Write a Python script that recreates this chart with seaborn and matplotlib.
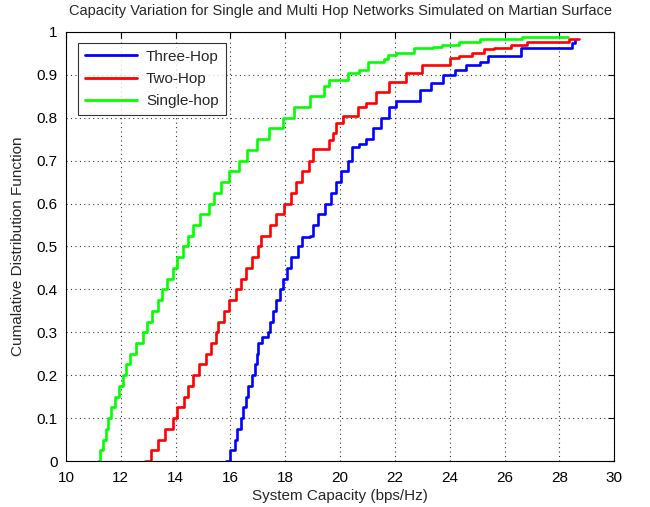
import numpy as np
import pandas as pd
import matplotlib
matplotlib.use("Agg")
import matplotlib.pyplot as plt
import seaborn as sns

# CDF curves (capacity where the CDF steps up, new CDF level)
single_x = [11.15, 11.25, 11.35, 11.45, 11.55, 11.65, 11.8, 11.95, 12.08, 12.2,
            12.35, 12.55, 12.8, 12.95, 13.15, 13.35, 13.5, 13.7, 13.9, 14.05,
            14.27, 14.45, 14.65, 14.9, 15.2, 15.4, 15.65, 15.95, 16.3, 16.6,
            16.95, 17.4, 17.9, 18.3, 18.9, 19.4, 19.6, 20.3, 20.7, 21.0,
            21.6, 21.73, 22.05, 22.7, 23.4, 23.7, 24.35, 25.1, 26.65, 28.3]
single_y = [0.0, 0.025, 0.05, 0.075, 0.1, 0.125, 0.15, 0.175, 0.2, 0.225,
            0.25, 0.275, 0.3, 0.325, 0.35, 0.375, 0.4, 0.425, 0.45, 0.475,
            0.5, 0.525, 0.55, 0.575, 0.6, 0.625, 0.65, 0.675, 0.7, 0.725,
            0.75, 0.775, 0.8, 0.825, 0.85, 0.875, 0.888, 0.904, 0.911, 0.93,
            0.938, 0.946, 0.95, 0.962, 0.966, 0.97, 0.976, 0.984, 0.989, 0.989]

two_x = [12.88, 13.1, 13.35, 13.6, 13.9, 14.05, 14.3, 14.45, 14.64, 14.85,
         15.1, 15.3, 15.46, 15.55, 15.75, 15.95, 16.2, 16.4, 16.55, 16.8,
         17.0, 17.1, 17.45, 17.65, 17.95, 18.2, 18.4, 18.6, 18.85, 19.0,
         19.6, 19.73, 19.86, 20.1, 20.64, 20.96, 21.3, 21.8, 22.4, 23.0,
         24.0, 24.35, 24.8, 25.26, 25.6, 26.25, 26.8, 28.36, 28.7]
two_y = [0.0, 0.025, 0.05, 0.075, 0.1, 0.125, 0.15, 0.175, 0.2, 0.225,
         0.25, 0.275, 0.3, 0.325, 0.35, 0.375, 0.4, 0.425, 0.45, 0.475,
         0.5, 0.525, 0.55, 0.575, 0.6, 0.625, 0.65, 0.675, 0.7, 0.727,
         0.748, 0.764, 0.788, 0.803, 0.826, 0.834, 0.861, 0.884, 0.904, 0.923,
         0.939, 0.943, 0.95, 0.96, 0.962, 0.97, 0.977, 0.984, 0.984]

three_x = [15.85, 16.0, 16.15, 16.25, 16.38, 16.45, 16.55, 16.65, 16.78, 16.9,
           16.95, 17.0, 17.15, 17.37, 17.45, 17.55, 17.67, 17.8, 17.9, 18.05,
           18.2, 18.45, 18.6, 18.9, 19.0, 19.2, 19.44, 19.65, 19.85, 20.05,
           20.3, 20.45, 20.7, 20.95, 21.2, 21.5, 21.8, 22.05, 22.9, 23.3,
           23.74, 24.2, 24.6, 25.1, 25.4, 26.6, 28.45, 28.55]
three_y = [0.0, 0.025, 0.05, 0.075, 0.1, 0.125, 0.15, 0.175, 0.2, 0.225,
           0.25, 0.275, 0.29, 0.3, 0.325, 0.35, 0.375, 0.4, 0.425, 0.45,
           0.475, 0.5, 0.522, 0.525, 0.55, 0.575, 0.6, 0.625, 0.65, 0.675,
           0.7, 0.733, 0.74, 0.75, 0.775, 0.8, 0.825, 0.84, 0.865, 0.88,
           0.9, 0.911, 0.923, 0.931, 0.943, 0.962, 0.974, 0.981]

series_names = ["Three-Hop", "Two-Hop", "Single-hop"]
series_colors = ["#0000ff", "#ff0000", "#00ff00"]
x_ticks = list(range(10, 31, 2))
y_ticks = [0, 0.1, 0.2, 0.3, 0.4, 0.5, 0.6, 0.7, 0.8, 0.9, 1]
y_tick_labels = ["0", "0.1", "0.2", "0.3", "0.4", "0.5", "0.6", "0.7", "0.8", "0.9", "1"]

df = pd.concat([
    pd.DataFrame({"capacity": three_x, "cdf": three_y, "network": "Three-Hop"}),
    pd.DataFrame({"capacity": two_x, "cdf": two_y, "network": "Two-Hop"}),
    pd.DataFrame({"capacity": single_x, "cdf": single_y, "network": "Single-hop"}),
], ignore_index=True)

sns.set_theme(style="white")
plt.rcParams["font.family"] = ["Liberation Sans", "DejaVu Sans"]

fig = plt.figure(figsize=(6.5, 5.07), dpi=100)
ax = fig.add_axes([0.1015, 0.0907, 0.8435, 0.8463])

sns.lineplot(data=df, x="capacity", y="cdf", hue="network", hue_order=series_names,
             palette=series_colors, estimator=None, sort=False,
             drawstyle="steps-post", linewidth=1.9, ax=ax)

ax.set_xlim(10, 30)
ax.set_ylim(0, 1)
ax.set_xticks(x_ticks)
ax.set_yticks(y_ticks)
ax.set_yticklabels(y_tick_labels)
ax.grid(True, linestyle=(0, (1, 3)), color="black", linewidth=0.8, alpha=0.8)
ax.tick_params(direction="in", top=True, right=True, length=4, width=0.8,
               colors="black", labelsize=11)
ax.tick_params(axis="x", pad=7)
ax.tick_params(axis="y", pad=6)
for s in ax.spines.values():
    s.set_color("black")
    s.set_linewidth(0.8)

ax.set_xlabel("System Capacity (bps/Hz)", fontsize=11, labelpad=3)
ax.set_ylabel("Cumalative Distribution Function", fontsize=11, labelpad=8)
ax.set_title("Capacity Variation for Single and Multi Hop Networks Simulated on Martian Surface",
             fontsize=10.5, pad=12)

leg = ax.legend(loc="upper left", bbox_to_anchor=(0.022, 0.975), borderaxespad=0,
                fontsize=11, frameon=True, fancybox=False, handlelength=3.4,
                borderpad=0.45, labelspacing=0.55, handletextpad=0.6)
leg.get_frame().set_edgecolor("black")
leg.get_frame().set_linewidth(0.8)
for line in leg.get_lines():
    line.set_linewidth(2)

fig.savefig("out.png", dpi=100)
